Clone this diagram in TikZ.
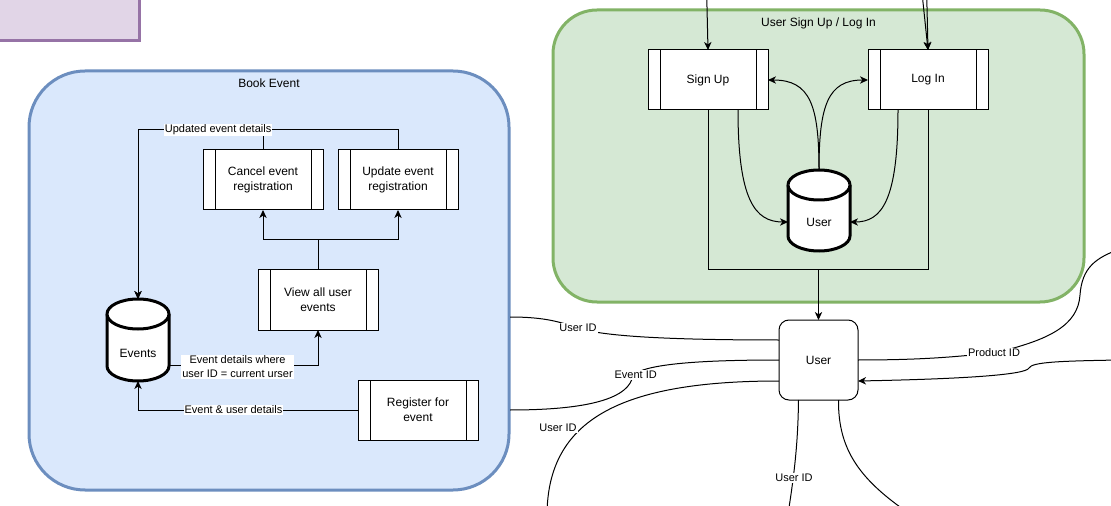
\documentclass[tikz,border=0pt]{standalone}
\usepackage{fontspec}
\setmainfont{Liberation Sans}
\usetikzlibrary{arrows.meta,calc}
\definecolor{bluefill}{HTML}{DAE8FC}
\definecolor{bluedraw}{HTML}{6C8EBF}
\definecolor{greenfill}{HTML}{D5E8D4}
\definecolor{greendraw}{HTML}{82B366}
\definecolor{purpfill}{HTML}{E1D5E7}
\definecolor{purpdraw}{HTML}{9673A6}
\newcommand\dnodefont{\fontsize{9pt}{11.25pt}\selectfont}
\newcommand\dlabfont{\fontsize{8.25pt}{10.5pt}\selectfont}
\newcommand\mycyl[3]{%
  \draw[cylline] ({#1-31},{#2+15}) -- ({#1-31},{#3-15})
    arc[start angle=180,end angle=360,x radius=23.25pt,y radius=11.25pt]
    -- ({#1+31},{#2+15})
    arc[start angle=0,end angle=180,x radius=23.25pt,y radius=11.25pt] -- cycle;
  \draw[cylline] ({#1-31},{#2+15})
    arc[start angle=180,end angle=360,x radius=23.25pt,y radius=11.25pt];}
\begin{document}
\begin{tikzpicture}[x=0.75pt,y=-0.75pt,
  ln/.style={line width=0.75pt,draw=black},
  arr/.style={-{Stealth[length=6pt,width=5.5pt,inset=1.8pt]}},
  container/.style={line width=2.25pt,inner sep=0pt,outer sep=0pt},
  proc/.style={draw,fill=white,line width=0.75pt,minimum width=90pt,minimum height=45pt,
    inner sep=0pt,outer sep=0pt,align=center,font=\dnodefont,
    path picture={
      \draw[line width=0.75pt] ([xshift=9pt]path picture bounding box.north west) -- ([xshift=9pt]path picture bounding box.south west);
      \draw[line width=0.75pt] ([xshift=-9pt]path picture bounding box.north east) -- ([xshift=-9pt]path picture bounding box.south east);}},
  dbnode/.style={minimum width=46.5pt,inner sep=0pt,outer sep=0pt},
  cylline/.style={line width=2.25pt,fill=white,draw=black},
  elabel/.style={fill=white,inner sep=0.75pt,font=\dlabfont,align=center},
  txt/.style={font=\dnodefont,inner sep=0pt}
]
\useasboundingbox (0,0) rectangle (1111,506);
\clip (0,0) rectangle (1111,506);
\fill[white] (0,0) rectangle (1111,506);

% purple box (partly off canvas)
\node[draw=purpdraw,fill=purpfill,line width=2.25pt,minimum width=119.25pt,minimum height=45.75pt,inner sep=0pt] (purple) at (59.5,10.5) {};

% containers
\node[container,draw=bluedraw,fill=bluefill,rounded corners=42pt,minimum width=360pt,minimum height=314.25pt,
  label={[name=bookttl,anchor=center,yshift=-9pt,font=\dnodefont]north:Book Event}] (bookev) at (269,280.5) {};
\node[container,draw=greendraw,fill=greenfill,rounded corners=33pt,minimum width=398.25pt,minimum height=219pt,
  label={[name=suttl,anchor=center,yshift=-9.75pt,font=\dnodefont]north:User Sign Up / Log In}] (suc) at (818.5,156) {};

% Book Event processes
\node[proc] (cancel) at (263,180) {Cancel event\\registration};
\node[proc] (update) at (398,180) {Update event\\registration};
\node[proc] (view) at (318,300) {View all user\\events};
\node[proc] (register) at (418,410) {Register for\\event};
\node[dbnode,minimum height=61.5pt] (events) at (138,340) {};
\mycyl{138}{299}{381}
\node[txt] (evtxt) at (138,353) {Events};

% Sign up / log in
\node[proc] (signup) at (708,80) {Sign Up};
\node[proc] (login) at (928,80) {Log In};
\node[dbnode,minimum height=60.75pt] (userdb) at (819,210.5) {};
\mycyl{819}{170}{251}
\node[txt] (udbtxt) at (819,222) {User};

% central user
\node[draw,fill=white,line width=0.75pt,rounded corners=7.5pt,minimum width=59.25pt,minimum height=60pt,inner sep=0pt,outer sep=0pt,font=\dnodefont] (userp) at (818.5,360) {User};

% free ends
\coordinate (su0) at (706.6,-10);
\coordinate (li0) at (921.7,-10);
\coordinate (li1) at (926.6,-10);
\coordinate (merge) at (818.5,270);
\coordinate (ua) at (510,317);
\coordinate (ub) at (510,410);
\coordinate (uc) at (547,514);
\coordinate (ud) at (788,514);
\coordinate (ue) at (910,514);
\coordinate (uf) at (1120,249);
\coordinate (ug) at (1120,360);

% Book Event edges
\draw[ln,arr] (cancel.north) -- ++(0,-20) -| (events.north);
\draw[ln,arr] (update.north) -- ++(0,-20) -| node[elabel,pos=0.346] (lupd) {Updated event details} (events.north);
\draw[ln,arr] (view.north) -- ++(0,-30) -| (cancel.south);
\draw[ln,arr] (view.north) -- ++(0,-30) -| (update.south);
\draw[ln,arr] ($(events.east)+(0,25)$) -| node[elabel,pos=0.23,yshift=-1.5pt] (lev) {Event details where\\user ID = current urser} (view.south);
\draw[ln,arr] (register.west) -| node[elabel,pos=0.283] (lreg) {Event \& user details} (events.south);

% Sign up / log in edges
\draw[ln,arr] (su0) -- (signup.north);
\draw[ln,arr] (li0) -- (login.north);
\draw[ln,arr] (li1) -- (login.north);
\draw[ln] (signup.south) |- (merge);
\draw[ln] (login.south) |- (merge);
\draw[ln,arr] (merge) -- (userp.north);
\draw[ln,arr] ($(signup.south)+(30,0)$) .. controls (738,200) and (755,222) .. (userdb.west |- udbtxt.center);
\draw[ln,arr] ($(login.south)+(-30,0)$) .. controls (898,200) and (882,222) .. (userdb.east |- udbtxt.center);
\draw[ln,arr] (userdb.north) .. controls (819,105) and (810,80) .. (signup.east);
\draw[ln,arr] (userdb.north) .. controls (819,105) and (828,80) .. (login.west);

% central user edges
\draw[ln] (ua) .. controls (545,317) and (560,322) .. (578,328) node[elabel] (l1) {User ID}
  .. controls (596,334) and (640,340) .. ($(userp.west)+(0,-20)$);
\draw[ln] (userp.west) .. controls (690,360) and (645,365) .. (633,375) node[elabel,xshift=2pt] (l2) {Event ID}
  .. controls (630,398) and (590,410) .. (ub);
\draw[ln] ($(userp.west)+(0,21)$) .. controls (620,381) and (548,420) .. (uc);
\node[elabel] (l3) at (558,428) {User ID};
\draw[ln] ($(userp.south)+(-20,0)$) .. controls (798,440) and (795,470) .. (ud);
\node[elabel] (l4) at (794,478) {User ID};
\draw[ln] ($(userp.south)+(20,0)$) .. controls (838,450) and (860,480) .. (ue);
\draw[ln] (userp.east) .. controls (930,360) and (960,356) .. (994,353) node[elabel] (l5) {Product ID}
  .. controls (1050,340) and (1078,325) .. (1080,295) .. controls (1082,268) and (1095,258) .. (uf);
\draw[ln,arr] (ug) .. controls (1060,361) and (1032,362) .. (1029,368) .. controls (1026,375) and (960,379) .. ($(userp.east)+(0,21)$);
\end{tikzpicture}
\end{document}
